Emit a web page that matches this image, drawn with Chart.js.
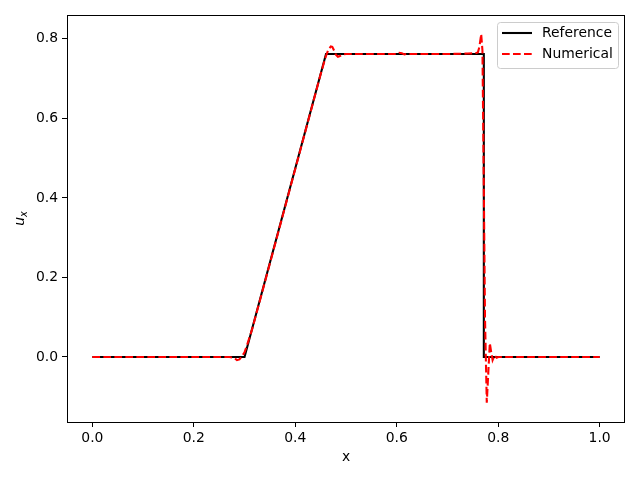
<!DOCTYPE html>
<html><head><meta charset="utf-8">
<script src="https://cdn.jsdelivr.net/npm/chart.js@4.4.1/dist/chart.umd.min.js"></script>
<style>html,body{margin:0;padding:0;background:#fff}#wrap{width:640px;height:480px}</style>
</head><body><div id="wrap"><canvas id="c" width="640" height="480"></canvas></div>
<script>
const refX = [0.0, 0.30, 0.4606, 0.7717, 0.7717, 1.0];
const refU = [0.0, 0.0, 0.762, 0.762, 0.0, 0.0];
const numX = [0, 0.05, 0.10, 0.15, 0.20, 0.25, 0.27, 0.28, 0.285, 0.29, 0.295, 0.30, 0.305, 0.31, 0.315, 0.34, 0.36, 0.38, 0.40, 0.42, 0.44, 0.45, 0.455, 0.46, 0.465, 0.47, 0.473, 0.476, 0.48, 0.484, 0.488, 0.493, 0.50, 0.55, 0.60, 0.605, 0.61, 0.615, 0.62, 0.65, 0.70, 0.74, 0.755, 0.76, 0.763, 0.7665, 0.769, 0.7715, 0.774, 0.7775, 0.7805, 0.7835, 0.7865, 0.789, 0.793, 0.797, 0.80, 0.85, 0.90, 0.95, 1.0];
const numU = [0, 0, 0, 0, 0, 0, 0, -0.002, -0.008, -0.006, 0.002, 0.012, 0.03, 0.05, 0.07, 0.188, 0.283, 0.378, 0.473, 0.568, 0.663, 0.711, 0.733, 0.755, 0.772, 0.781, 0.780, 0.772, 0.760, 0.755, 0.757, 0.761, 0.762, 0.762, 0.762, 0.765, 0.764, 0.761, 0.762, 0.762, 0.762, 0.763, 0.764, 0.766, 0.78, 0.812, 0.77, 0.45, 0.1, -0.115, -0.04, 0.035, 0.01, -0.008, 0.004, -0.002, 0, 0, 0, 0, 0];
const xTicks = [0.0, 0.2, 0.4, 0.6, 0.8, 1.0];
const yTicks = [0.0, 0.2, 0.4, 0.6, 0.8];
const seriesNames = ['Reference', 'Numerical'];
const xLabel = 'x';
const yLabel = 'u';
const ySub = 'x';

const FONT = 'DejaVu Sans';
const FS = 13.9;
const toPts = (xs, ys) => xs.map((x, i) => ({x: x, y: ys[i]}));

const frameAndLegend = {
  id: 'frameAndLegend',
  afterDraw(chart) {
    const ctx = chart.ctx, a = chart.chartArea;
    ctx.save();
    ctx.strokeStyle = '#000'; ctx.lineWidth = 1;
    ctx.strokeRect(Math.round(a.left) + 0.5, Math.round(a.top) + 0.5, Math.round(a.right - a.left) - 1, Math.round(a.bottom - a.top));
    // legend
    const bx = 497.5, by = 22.5, bw = 121, bh = 46, r = 3;
    ctx.beginPath();
    ctx.moveTo(bx + r, by); ctx.lineTo(bx + bw - r, by); ctx.arcTo(bx + bw, by, bx + bw, by + r, r);
    ctx.lineTo(bx + bw, by + bh - r); ctx.arcTo(bx + bw, by + bh, bx + bw - r, by + bh, r);
    ctx.lineTo(bx + r, by + bh); ctx.arcTo(bx, by + bh, bx, by + bh - r, r);
    ctx.lineTo(bx, by + r); ctx.arcTo(bx, by, bx + r, by, r); ctx.closePath();
    ctx.fillStyle = 'rgba(255,255,255,0.8)'; ctx.fill();
    ctx.strokeStyle = '#cccccc'; ctx.lineWidth = 1; ctx.stroke();
    const ds = chart.data.datasets;
    const rows = [33, 54];
    ds.forEach((d, i) => {
      ctx.beginPath();
      ctx.setLineDash(d.borderDash || []);
      ctx.lineCap = 'butt';
      ctx.strokeStyle = d.borderColor; ctx.lineWidth = d.borderWidth;
      ctx.moveTo(502, rows[i]); ctx.lineTo(532, rows[i]); ctx.stroke();
      ctx.setLineDash([]);
      ctx.fillStyle = '#000'; ctx.font = FS + 'px "' + FONT + '"';
      ctx.textBaseline = 'middle'; ctx.textAlign = 'left';
      ctx.fillText(d.label, 542, rows[i]);
    });
    // y label with subscript
    ctx.save();
    ctx.translate(24, (a.top + a.bottom) / 2);
    ctx.rotate(-Math.PI / 2);
    ctx.fillStyle = '#000';
    ctx.textBaseline = 'alphabetic'; ctx.textAlign = 'left';
    ctx.font = 'italic ' + FS + 'px "' + FONT + '"';
    const w1 = ctx.measureText(yLabel).width;
    ctx.font = 'italic ' + (FS * 0.7) + 'px "' + FONT + '"';
    const w2 = ctx.measureText(ySub).width;
    const sx = -(w1 + w2) / 2;
    ctx.font = 'italic ' + FS + 'px "' + FONT + '"';
    ctx.fillText(yLabel, sx, 0);
    ctx.font = 'italic ' + (FS * 0.7) + 'px "' + FONT + '"';
    ctx.fillText(ySub, sx + w1, 3);
    ctx.restore();
    ctx.restore();
  }
};

new Chart(document.getElementById('c'), {
  type: 'scatter',
  data: {
    datasets: [
      {label: seriesNames[0], data: toPts(refX, refU), showLine: true, borderColor: '#000000', backgroundColor: '#000000', borderWidth: 2.08, pointRadius: 0, order: 2, tension: 0},
      {label: seriesNames[1], data: toPts(numX, numU), showLine: true, borderColor: '#ff0000', backgroundColor: '#ff0000', borderWidth: 2.08, borderDash: [7.7, 3.3], borderCapStyle: 'butt', pointRadius: 0, order: 1, tension: 0}
    ]
  },
  options: {
    responsive: false, animation: false, devicePixelRatio: 1,
    layout: {padding: {left: 0, right: 15, top: 15, bottom: 0}},
    plugins: {legend: {display: false}, tooltip: {enabled: false}},
    scales: {
      x: {
        type: 'linear', min: -0.05, max: 1.05,
        afterBuildTicks: s => { s.ticks = xTicks.map(v => ({value: v})); },
        afterFit: s => { s.height = 58; },
        grid: {display: true, drawOnChartArea: false, drawTicks: true, tickLength: 5, color: '#000', tickColor: '#000', tickWidth: 1},
        border: {display: false},
        ticks: {color: '#000', font: {family: FONT, size: FS}, padding: 3, maxRotation: 0, callback: v => v.toFixed(1)},
        title: {display: true, text: xLabel, color: '#000', font: {family: FONT, size: FS}, padding: {top: 4, bottom: 14}}
      },
      y: {
        type: 'linear', min: -0.1635, max: 0.86,
        afterBuildTicks: s => { s.ticks = yTicks.map(v => ({value: v})); },
        afterFit: s => { s.width = 67; },
        grid: {display: true, drawOnChartArea: false, drawTicks: true, tickLength: 5, color: '#000', tickColor: '#000', tickWidth: 1},
        border: {display: false},
        ticks: {color: '#000', font: {family: FONT, size: FS}, padding: 4, callback: v => v.toFixed(1)}
      }
    }
  },
  plugins: [frameAndLegend]
});
</script></body></html>
